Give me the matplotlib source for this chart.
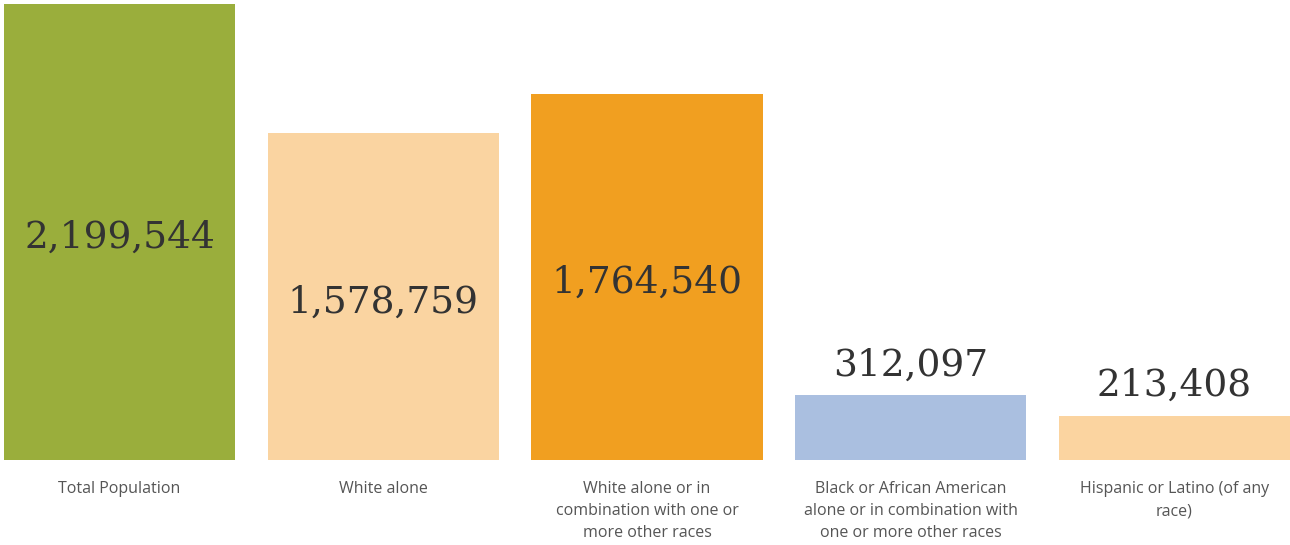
import matplotlib.pyplot as plt
from matplotlib.transforms import offset_copy

categories = [
    "Total Population",
    "White alone",
    "White alone or in\ncombination with one or\nmore other races",
    "Black or African American\nalone or in combination with\none or more other races",
    "Hispanic or Latino (of any\nrace)",
]
values = [2199544, 1578759, 1764540, 312097, 213408]
colors = ["#9AAE3C", "#FAD4A1", "#F19F20", "#AABFE0", "#FBD4A0"]

fig = plt.figure(figsize=(12.9, 5.45), dpi=100)
ax = fig.add_axes([4 / 1290, 85 / 545, 1286 / 1290, 456 / 545])

x = list(range(len(values)))
width = 0.876
ax.bar(x, values, width=width, color=colors)
ax.set_xlim(-width / 2, len(values) - 1 + width / 2)
ax.set_ylim(0, max(values))
ax.axis("off")

# big numbers: inside tall bars, above short ones
inside = offset_copy(ax.transData, fig=fig, x=0, y=-6, units="dots")
above = offset_copy(ax.transData, fig=fig, x=0, y=20, units="dots")
for xi, v in zip(x, values):
    label = f"{v:,}"
    if v > 0.3 * max(values):
        ax.text(xi, v / 2, label, ha="center", va="center", fontsize=27,
                family="DejaVu Serif", color="#333333", transform=inside)
    else:
        ax.text(xi, v, label, ha="center", va="baseline", fontsize=27,
                family="DejaVu Serif", color="#333333", transform=above)

below = offset_copy(ax.get_xaxis_transform(), fig=fig, x=0, y=-21, units="dots")
for xi, cat in zip(x, categories):
    ax.text(xi, 0, cat, ha="center", va="top", fontsize=11.5,
            family="Open Sans", color="#555555", linespacing=1.5,
            transform=below)

fig.savefig("out.png", dpi=100)
